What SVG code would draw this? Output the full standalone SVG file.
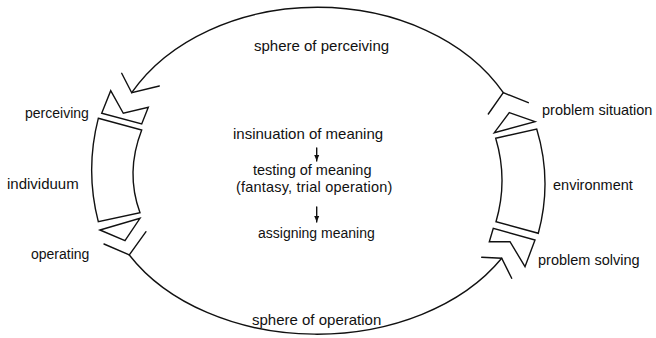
<svg xmlns="http://www.w3.org/2000/svg" width="656" height="338" viewBox="0 0 656 338">
  <style>
    .ln { fill: none; stroke: #111; stroke-width: 1.4; stroke-linejoin: miter; stroke-linecap: round; }
    .sh { fill: #fff; stroke: #111; stroke-width: 1.4; stroke-linejoin: miter; }
    text { font-family: "Liberation Sans", Arial, sans-serif; fill: #111; }
    .t15 { font-size: 15px; }
    .t14 { font-size: 14.5px; }
  </style>
  <defs>
    <marker id="dn" markerUnits="userSpaceOnUse" markerWidth="6" markerHeight="6" refX="6" refY="3" orient="auto">
      <path d="M0,0.5 L6,3 L0,5.5 z" fill="#111"/>
    </marker>
  </defs>
  <rect x="0" y="0" width="656" height="338" fill="#fff"/>

  <g id="connectors">
    <path class="ln" d="M503.3,92.7 A210,160 0 0 0 131.7,92.7"/>
    <polyline class="ln" points="121.7,73.3 131.7,92.7 159.3,86"/>
    <polyline class="ln" points="528.3,102.7 503.3,92.7 488.3,114"/>
    <path class="ln" d="M129.3,255 A215,155 0 0 0 501.7,258.3"/>
    <polyline class="ln" points="104,244 129.3,255 146,231.7"/>
    <polyline class="ln" points="481.7,257.3 501.7,258.3 511.7,278.3"/>
    <line class="ln" x1="316.7" y1="148" x2="316.7" y2="161" marker-end="url(#dn)"/>
    <line class="ln" x1="316.7" y1="207" x2="316.7" y2="222" marker-end="url(#dn)"/>
    <text class="t15" x="254" y="51">sphere of perceiving</text>
    <text class="t15" x="252" y="325">sphere of operation</text>
  </g>

  <g id="perceiving">
    <polygon class="sh" points="110.7,90.7 123.3,113.3 148.3,107.3 141.7,124 101.7,113.3"/>
    <text style="font-size:14px" x="25" y="118">perceiving</text>
  </g>

  <g id="individuum">
    <path class="sh" d="M98.3,118.3 L141.7,130 Q125.2,172.6 140,212.7 L98.3,221.7 Q85,170 98.3,118.3 Z"/>
    <text class="t15" x="7" y="189">individuum</text>
  </g>

  <g id="operating">
    <polygon class="sh" points="100,230 140,218.3 125,240.7"/>
    <text style="font-size:14px" x="31" y="259">operating</text>
  </g>

  <g id="problem-situation">
    <polygon class="sh" points="509.3,112.7 535,121.7 494.3,132.7"/>
    <text class="t14" x="542" y="115">problem situation</text>
  </g>

  <g id="environment">
    <path class="sh" d="M495.7,138.3 L536.7,129 Q552.5,180.9 538.3,233.3 L496,221.7 Q508.2,180 495.7,138.3 Z"/>
    <text class="t14" x="553" y="190">environment</text>
  </g>

  <g id="problem-solving">
    <polygon class="sh" points="493.3,228.3 489.3,241.7 510,241.7 525,266.7 535,240"/>
    <text class="t14" x="538" y="265">problem solving</text>
  </g>

  <g id="meaning">
    <text class="t15" x="233" y="139">insinuation of meaning</text>
    <text style="font-size:14.5px" x="253" y="174.5">testing of meaning</text>
    <text style="font-size:14.5px; letter-spacing:0.2px" x="236" y="192">(fantasy, trial operation)</text>
    <text style="font-size:14px" x="258" y="238">assigning meaning</text>
  </g>
</svg>
